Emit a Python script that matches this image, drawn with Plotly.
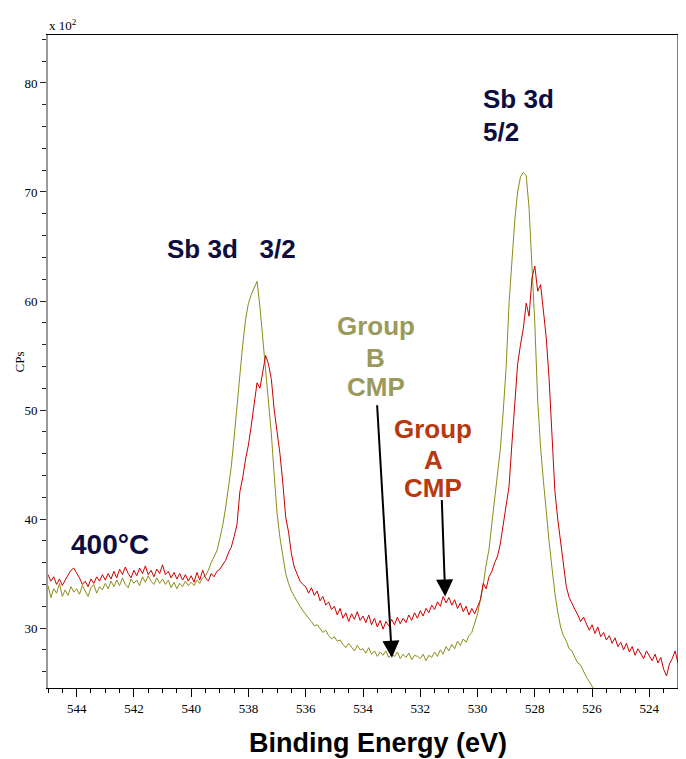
import plotly.graph_objects as go

# ---- data (counts x 10^2), binding energy sampled from 545.0 eV downward in 0.1 eV steps ----
E_START = 545.0
E_STEP = 0.1

group_b_cps = [
    33.9, 32.8, 33.6, 33.2, 34.1, 32.9, 33.5, 33.0, 33.8, 33.3, 33.6,
    33.1, 33.9, 33.4, 32.9, 33.7, 34.0, 33.2, 33.8, 33.5, 34.1,
    33.6, 34.3, 33.8, 34.4, 33.9, 34.6, 34.0, 33.7, 34.5, 34.1,
    34.4, 33.9, 34.7, 34.2, 34.8, 34.3, 34.0, 34.6, 34.1, 34.5,
    34.0, 34.4, 33.7, 34.2, 33.6, 34.1, 33.8, 34.3, 33.9, 34.2,
    33.9, 34.4, 34.1, 34.6, 34.8, 35.3, 36.0, 36.5, 37.1, 38.2,
    39.4, 41.0, 42.9, 44.8, 47.5, 50.4, 53.2, 56.0, 58.3, 59.8,
    60.6, 61.2, 61.8, 59.5, 56.6, 53.6, 50.9, 47.8, 44.0, 40.5,
    38.3, 36.4, 35.0, 34.1, 33.4, 32.9, 32.4, 32.0, 31.6, 31.2,
    30.9, 30.6, 30.2, 30.3, 29.9, 29.6, 29.8, 29.3, 29.0, 29.2,
    28.8, 28.9, 28.5, 28.2, 28.6, 28.3, 27.9, 28.4, 28.0, 28.1,
    27.7, 28.2, 27.6, 27.9, 27.4, 27.8, 27.5, 27.9, 27.3, 27.6,
    27.4, 27.8, 27.2, 27.6, 27.3, 27.7, 27.1, 27.5, 27.4, 27.2,
    27.6, 27.0, 27.5, 27.3, 27.8, 27.4, 28.0, 27.6, 28.3, 27.9,
    28.5, 28.1, 28.8, 28.4, 29.0, 28.7, 29.3, 29.6, 30.5, 31.3,
    32.6, 34.0, 35.8, 37.2, 39.6, 41.8, 44.0, 46.5, 50.0, 54.0,
    59.8, 63.7, 67.4, 70.0, 71.4, 71.8, 71.5, 68.5, 63.8, 57.9,
    50.9, 46.6, 43.5, 40.5, 37.9, 35.5, 33.2, 31.5, 30.1, 29.3,
    28.8, 28.1, 27.9, 27.3, 26.8, 26.6, 26.0, 25.5, 25.1, 24.6,
    24.2, 23.8,
]

group_a_cps = [
    34.9, 34.3, 34.7, 34.0, 34.5, 33.9, 34.4, 34.8, 35.3, 35.5, 35.1,
    34.6, 34.0, 34.3, 33.8, 34.5, 34.1, 34.7, 34.3, 34.9, 34.4,
    35.0, 34.5, 35.2, 34.6, 35.4, 34.9, 35.6, 35.0, 34.6, 35.3,
    34.8, 35.5, 35.0, 35.7, 34.9, 35.3, 34.7, 35.4, 35.0, 35.8,
    34.9, 35.2, 34.6, 35.1, 34.5, 35.0, 34.4, 34.9, 34.3, 34.8,
    34.2, 35.1, 34.4, 35.3, 34.6, 34.3, 35.0, 34.7, 35.2, 35.4,
    35.8, 36.2, 36.9, 37.4, 38.4, 39.5, 42.5, 43.8, 45.5, 46.8,
    48.6, 50.5, 52.5, 52.0, 53.6, 55.0, 54.2, 52.8, 50.0, 48.2,
    46.0, 43.3, 40.2, 38.8, 36.8, 35.6, 35.0, 34.3, 34.0, 33.8,
    33.2, 33.7, 33.0, 33.4, 32.5, 32.9, 32.1, 32.4, 31.7, 32.0,
    31.2, 31.8, 30.9, 31.4, 30.6, 31.3, 30.8, 31.5, 30.7, 31.1,
    30.5, 31.2, 30.3, 30.9, 30.1, 30.7, 29.9, 30.6, 30.2, 30.8,
    30.3, 31.0, 30.4, 30.9, 30.5, 31.2, 30.7, 31.4, 30.9, 31.6,
    31.1, 31.8, 31.4, 32.1, 31.7, 32.4, 32.0, 32.9, 32.3, 32.8,
    32.1, 32.6, 31.8, 32.3, 31.5, 32.0, 31.2, 31.8, 31.3, 32.0,
    32.6, 34.1, 33.6, 34.7, 35.2, 36.0, 36.6, 37.8, 39.5, 41.2,
    43.0, 46.9, 50.6, 54.2, 56.0, 57.5, 59.8, 58.6, 62.1, 63.2,
    60.9, 61.5, 59.1, 56.6, 52.8, 47.5, 42.6, 40.0, 38.0, 35.8,
    33.8, 32.8, 32.2, 31.7, 31.2, 30.6, 31.0, 30.4, 29.8, 30.3,
    29.5, 30.1, 29.2, 29.6, 28.9, 29.3, 28.6, 29.1, 28.3, 28.7,
    28.0, 28.6, 27.8, 28.3, 27.5, 28.1, 27.6, 27.2, 27.9, 27.4,
    27.0, 27.6, 26.8, 27.3, 26.2, 25.6, 26.7, 27.2, 27.9, 26.8,
]

x_tick_vals = [544, 542, 540, 538, 536, 534, 532, 530, 528, 526, 524]
y_tick_vals = [30, 40, 50, 60, 70, 80]

energy_b = [round(E_START - E_STEP * i, 2) for i in range(len(group_b_cps))]
energy_a = [round(E_START - E_STEP * i, 2) for i in range(len(group_a_cps))]

OLIVE = "#8c8c1a"
RED = "#cc0000"
NAVY = "#0d0d40"
LABEL_B = "#9a9a5a"
LABEL_A = "#b8380f"
SERIF = "Liberation Serif"
SANS = "Liberation Sans"

fig = go.Figure()
fig.add_trace(go.Scatter(x=energy_b, y=group_b_cps, mode="lines",
                         line=dict(color=OLIVE, width=1), name="Group B CMP"))
fig.add_trace(go.Scatter(x=energy_a, y=group_a_cps, mode="lines",
                         line=dict(color=RED, width=1), name="Group A CMP"))

def txt(x, y, s, color, size=26, anchor="center"):
    fig.add_annotation(x=x, y=y, xref="x", yref="y", text="<b>%s</b>" % s,
                       showarrow=False, xanchor=anchor, yanchor="middle",
                       font=dict(family=SANS, size=size, color=color))

txt(538.6, 64.8, "Sb 3d&nbsp;&nbsp; 3/2", NAVY, 26)
txt(529.87, 78.54, "Sb 3d", NAVY, 26, "left")
txt(529.87, 75.5, "5/2", NAVY, 26, "left")
txt(533.56, 57.72, "Group", LABEL_B)
txt(533.56, 54.8, "B", LABEL_B)
txt(533.56, 52.15, "CMP", LABEL_B)
txt(531.54, 48.22, "Group", LABEL_A)
txt(531.54, 45.39, "A", LABEL_A)
txt(531.54, 42.83, "CMP", LABEL_A)
txt(542.84, 37.63, "400°C", NAVY, 28)

# arrows
for (tx, ty, hx, hy) in [(533.51, 50.57, 532.99, 27.28), (531.25, 41.89, 531.13, 32.9)]:
    fig.add_annotation(x=hx, y=hy, ax=tx, ay=ty, xref="x", yref="y", axref="x", ayref="y",
                       text="", showarrow=True, arrowhead=2, arrowsize=1.7,
                       arrowwidth=2, arrowcolor="black")

# axis title and scale annotations
fig.add_annotation(x=0.524, y=-0.0842, xref="paper", yref="paper",
                   text="<b>Binding Energy (eV)</b>", showarrow=False,
                   xanchor="center", yanchor="middle",
                   font=dict(family=SANS, size=27, color="black"))
fig.add_annotation(x=-0.002, y=1.0153, xref="paper", yref="paper",
                   text="x 10<sup>2</sup>", showarrow=False,
                   xanchor="left", yanchor="middle",
                   font=dict(family=SERIF, size=13, color="black"))
fig.add_annotation(x=-0.0445, y=0.5, xref="paper", yref="paper",
                   text="CPs", showarrow=False, textangle=-90,
                   xanchor="center", yanchor="middle",
                   font=dict(family=SERIF, size=13, color="black"))

fig.add_shape(type="line", xref="paper", yref="paper", x0=1, x1=1, y0=0, y1=1,
              line=dict(color="black", width=1))

# the page body adds an 8px offset at top-left, so the figure is 8px smaller and margins shifted
fig.update_layout(
    width=678, height=751,
    margin=dict(l=40, r=8, t=27, b=71),
    plot_bgcolor="white", paper_bgcolor="white",
    showlegend=False,
    xaxis=dict(range=[545, 523], tickmode="array", tickvals=x_tick_vals,
               ticks="outside", ticklen=8, tickcolor="black", tickwidth=1,
               showline=True, linecolor="black", linewidth=1, mirror=True,
               showgrid=False, zeroline=False,
               tickfont=dict(family=SERIF, size=13, color="black"),
               minor=dict(dtick=0.5, tick0=545, ticks="outside", ticklen=4,
                          tickcolor="black", showgrid=False)),
    yaxis=dict(range=[24.5, 84.4], tickmode="array", tickvals=y_tick_vals,
               ticks="outside", ticklen=6, tickcolor="#222", tickwidth=1,
               showline=True, linecolor="#9a9a9a", linewidth=2,
               showgrid=False, zeroline=False,
               tickfont=dict(family=SERIF, size=13, color="black"),
               minor=dict(dtick=2, tick0=0, ticks="outside", ticklen=4,
                          tickcolor="#222", showgrid=False)),
)

fig.write_html("out.html")
